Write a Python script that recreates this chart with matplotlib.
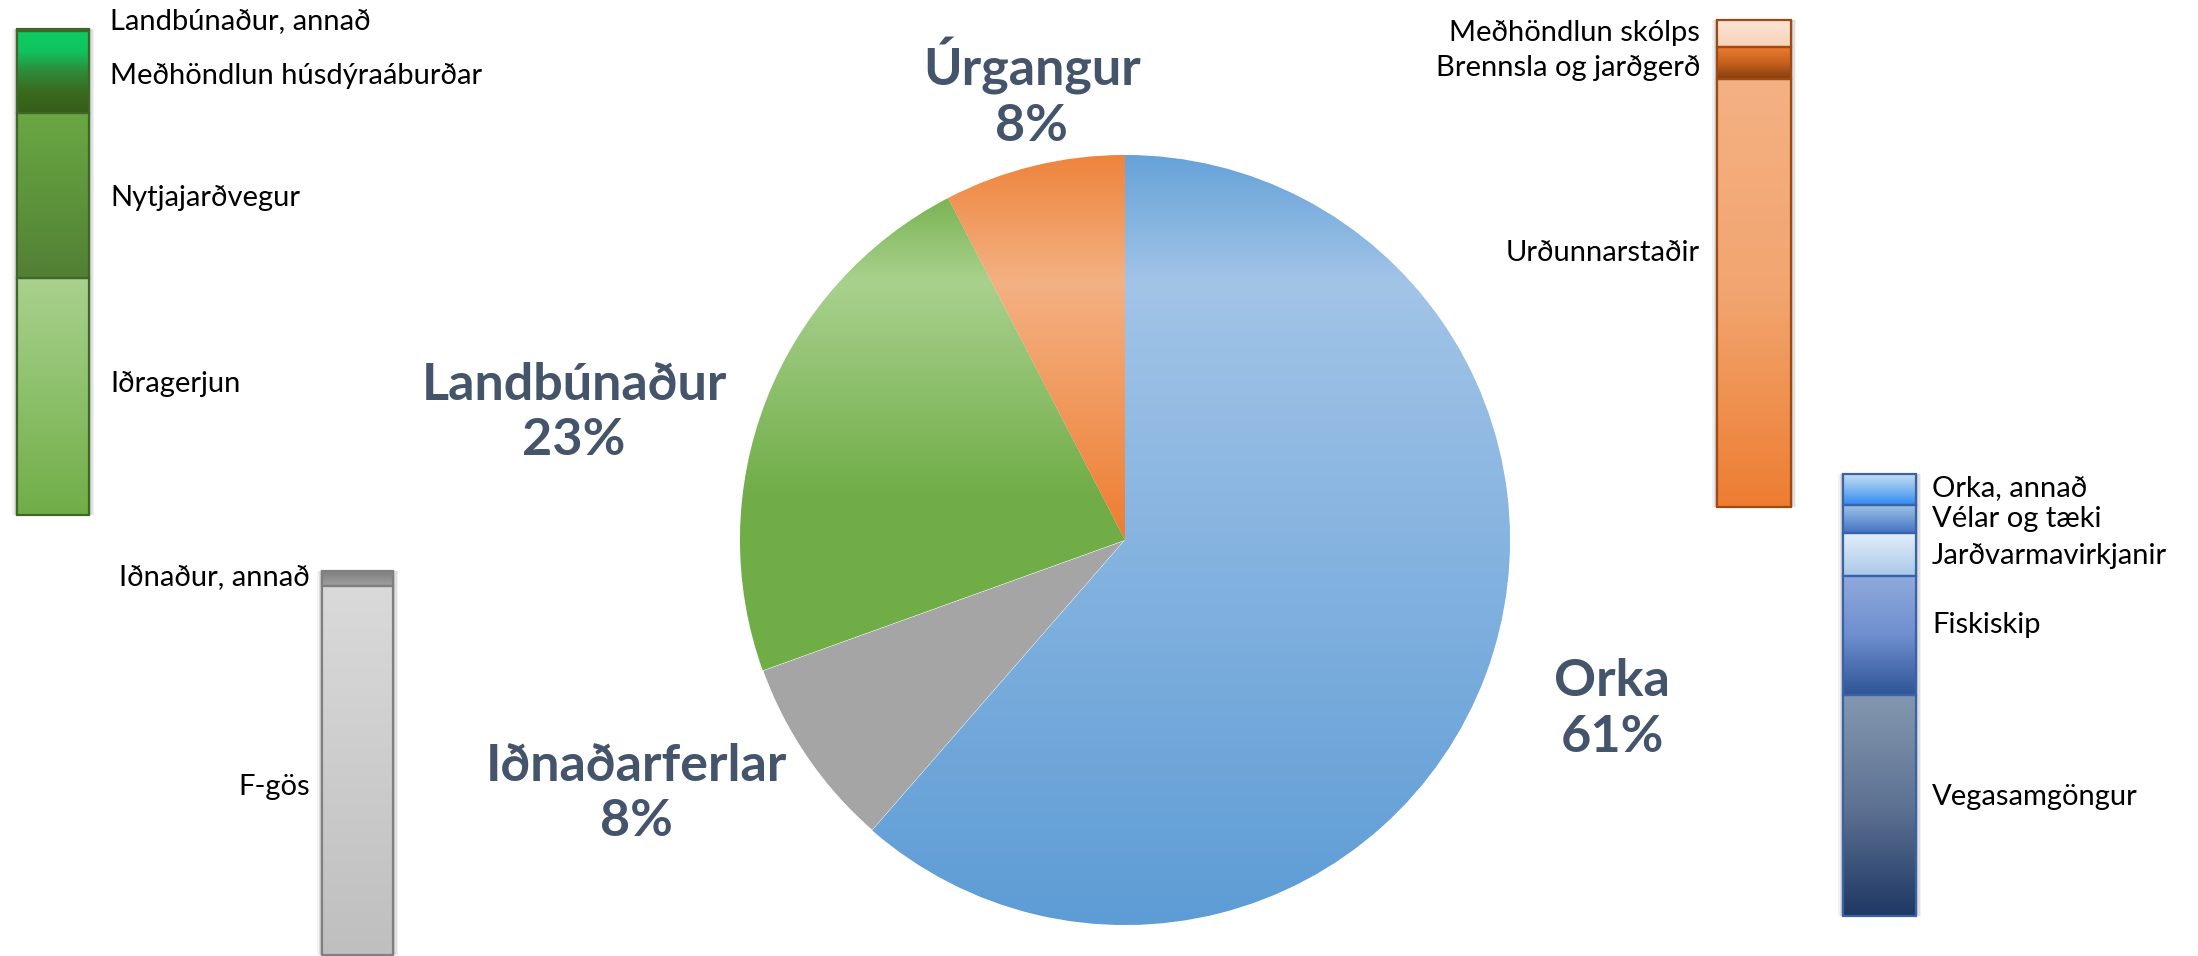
import numpy as np
import matplotlib
matplotlib.use("Agg")
import matplotlib.pyplot as plt
from matplotlib.colors import to_rgb

plt.rcParams['font.family'] = ['Lato', 'DejaVu Sans']

# ---------------- data ----------------
pie_labels = ["Orka", "Iðnaðarferlar", "Landbúnaður", "Úrgangur"]
pie_values = [61.4, 8.1, 22.9, 7.6]

green_labels = ["Landbúnaður, annað", "Meðhöndlun húsdýraáburðar", "Nytjajarðvegur", "Iðragerjun"]
green_values = [0.4, 16.9, 34.0, 48.7]

orange_labels = ["Meðhöndlun skólps", "Brennsla og jarðgerð", "Urðunnarstaðir"]
orange_values = [5.5, 6.6, 87.9]

blue_labels = ["Orka, annað", "Vélar og tæki", "Jarðvarmavirkjanir", "Fiskiskip", "Vegasamgöngur"]
blue_values = [7.0, 6.3, 9.7, 27.1, 49.9]

gray_labels = ["Iðnaður, annað", "F-gös"]
gray_values = [3.9, 96.1]

# ---------------- styles / layout ----------------
W, H = 2198, 956
fig = plt.figure(figsize=(W / 100, H / 100), dpi=100)
fig.patch.set_facecolor("white")


def px_rect(x0, x1, y0, y1):
    return [x0 / W, (H - y1) / H, (x1 - x0) / W, (y1 - y0) / H]


def gradient_image(stops, n=256):
    cols = np.array([to_rgb(c) for c in stops])
    pos = np.linspace(0, 1, len(stops))
    t = np.linspace(0, 1, n)
    arr = np.stack([np.interp(t, pos, cols[:, k]) for k in range(3)], axis=-1)
    return arr[:, None, :]  # row 0 = first stop (top)


# ---- pie ----
pie_base = ["#5B9BD5", "#A5A5A5", "#70AD47", "#ED7D31"]
pie_grad = [
    [(-1.0, "#5B9BD5"), (0.64, "#A2C4E7"), (1.0, "#5D9DD6")],
    None,
    [(-1.0, "#70AD47"), (0.11, "#70AD47"), (0.64, "#A9D18E"), (0.89, "#72AE49"), (1.0, "#70AD47")],
    [(-1.0, "#ED7D31"), (0.0, "#ED7D31"), (0.64, "#F4B183"), (1.0, "#ED7D31")],
]
pie_text_pos = [(1.265, -0.44), (-1.27, -0.66), (-1.431, 0.33), (-0.242, 1.16)]

axp = fig.add_axes(px_rect(1125 - 385, 1125 + 385, 540 - 385, 540 + 385))
wedges, _ = axp.pie(pie_values, colors=pie_base, startangle=90, counterclock=False,
                    radius=1.0, wedgeprops=dict(edgecolor="white", linewidth=0.6))
yy = np.linspace(1, -1, 400)
for w, g in zip(wedges, pie_grad):
    if g is None:
        continue
    ys = [s[0] for s in g]
    cs = np.array([to_rgb(s[1]) for s in g])
    arr = np.stack([np.interp(yy, ys, cs[:, k]) for k in range(3)], axis=-1)[:, None, :]
    im = axp.imshow(arr, extent=(-1.05, 1.05, -1.05, 1.05), origin="upper",
                    aspect="auto", zorder=w.get_zorder() + 0.1, interpolation="bilinear")
    im.set_clip_path(w)
for lab, val, (tx, ty) in zip(pie_labels, pie_values, pie_text_pos):
    axp.text(tx, ty, f"{lab}\n{round(val):d}%", ha="center", va="center",
             fontsize=37.5, fontweight="bold", color="#44546A", linespacing=1.22,
             clip_on=False)
axp.set_xlim(-1, 1)
axp.set_ylim(-1, 1)
axp.set_aspect("equal")
axp.axis("off")


# ---- stacked bars ----
def draw_bar(rect, labels, values, grads, edge, side, gap_px, nudges_px, bar_w_px, bar_h_px):
    ax = fig.add_axes(rect)
    total = float(sum(values))
    vals = np.array(values, dtype=float)
    bottoms = total - np.cumsum(vals)
    # soft shadow
    for k, a in zip([5, 3.5, 2], [0.05, 0.07, 0.09]):
        ax.bar([0], [total], bottom=[0], width=1.0 + 2 * k / bar_w_px, color="black",
               alpha=a, linewidth=0, zorder=1, clip_on=False)
    bars = ax.bar([0] * len(vals), vals, bottom=bottoms, width=1.0,
                  color="none", edgecolor=edge, linewidth=1.6, zorder=3, clip_on=False)
    for b, v, g, p in zip(bottoms, vals, grads, bars.patches):
        im = ax.imshow(gradient_image(g), extent=(-0.5, 0.5, b, b + v), origin="upper",
                       aspect="auto", zorder=2, interpolation="bilinear")
        im.set_clip_path(p)
    ax.set_xlim(-0.5, 0.5)
    ax.set_ylim(0, total)
    ax.axis("off")
    per_px = total / bar_h_px
    for lab, b, v, nd in zip(labels, bottoms, vals, nudges_px):
        yc = b + v / 2 + nd * per_px
        if side == "right":
            x = 1 + gap_px / bar_w_px
            ha = "left"
        else:
            x = -gap_px / bar_w_px
            ha = "right"
        ax.text(x, yc, lab, transform=ax.get_yaxis_transform(), ha=ha, va="center",
                fontsize=21, color="black", clip_on=False)
    return ax


green_grads = [["#3C7A28", "#2F5F1F"],
               ["#0DCB63", "#10C45E", "#2E8A3A", "#3A6A1E", "#355E1A"],
               ["#6AA843", "#5E953C", "#527F34"],
               ["#A9D18E", "#8CC06A", "#70AD47"]]
orange_grads = [["#FBE5D6", "#F8D2B8"],
                ["#ED7D31", "#C8621F", "#843C0C"],
                ["#F4B183", "#F2A570", "#ED7D31"]]
blue_grads = [["#C5DDF4", "#7EB6F0", "#2E8BF5"],
              ["#9DC3E6", "#4472C4"],
              ["#E3EEF9", "#A9C8E8"],
              ["#8FAADC", "#6E8ECF", "#2F5597"],
              ["#8497B0", "#5E7393", "#1F3864"]]
gray_grads = [["#7F7F7F", "#A0A0A0"],
              ["#DADADA", "#BFBFBF"]]

draw_bar(px_rect(17, 89, 29, 515), green_labels, green_values, green_grads, "#3F6828",
         "right", 21, [8, -4, -2, 13], 72, 486)
draw_bar(px_rect(1717, 1791, 20, 507), orange_labels, orange_values, orange_grads, "#9E4A12",
         "left", 17, [0, -5, 40], 74, 487)
draw_bar(px_rect(1843, 1916, 474, 916), blue_labels, blue_values, blue_grads, "#3A62A8",
         "right", 16, [0, 0, -2, 11, 9], 73, 442)
draw_bar(px_rect(322, 393, 571, 955), gray_labels, gray_values, gray_grads, "#808080",
         "left", 12, [0, -17], 71, 384)

fig.savefig("out.png", dpi=100, facecolor="white")
